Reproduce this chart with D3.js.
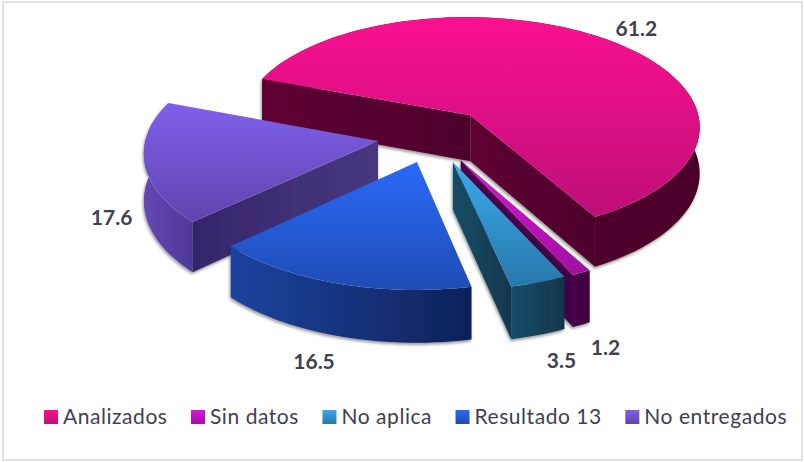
<!DOCTYPE html>
<html><head><meta charset="utf-8">
<script src="https://cdn.jsdelivr.net/npm/d3@7/dist/d3.min.js"></script>
<style>html,body{margin:0;padding:0;background:#fff}svg{display:block}</style>
</head><body><svg id="c" width="804" height="462"></svg>
<script>
const categories = ["Analizados","Sin datos","No aplica","Resultado 13","No entregados"];
const values = [61.2,1.2,3.5,16.5,17.6];
const labels = ["61.2","1.2","3.5","16.5","17.6"];
const topLight = ["#FA1090","#DC14DC","#3AAAEA","#2A6AF8","#7F60EA"];
const topDark  = ["#BE0F78","#A010A0","#2878AC","#1F4CB4","#5F44AE"];
const arcWallL = ["#5A0432","#4A0648","#1A4E68","#1C439F","#6548B4"];
const arcWallR = ["#4C022A","#3C0440","#11364C","#0F2259","#4E3896"];
const flatWallL = ["#5E0434","#4C0648","#184C66","#1C3F9C","#36266A"];
const flatWallR = ["#4E022C","#400444","#11384E","#10235F","#48387F"];
const labelShift = [[30,-10],[24,75],[23,79],[-24,78],[-33,55]];

const R=228,k=0.47,persp=2500,h=46,originX=470,originY=116,vanishX=425,startDeg=-69.5;
const centerG=[-36,41],explode=56;
const deg=Math.PI/180;
const svg=d3.select("#c");
const defs=svg.append("defs");
const f=defs.append("filter").attr("id","sh").attr("x","-10%").attr("y","-10%").attr("width","120%").attr("height","120%");
f.append("feDropShadow").attr("dx",-1).attr("dy",2).attr("stdDeviation",1.6).attr("flood-color","#000").attr("flood-opacity",.4);
function grad(id,a,b,vertical){
  const g=defs.append("linearGradient").attr("id",id).attr("x1",0).attr("y1",0).attr("x2",vertical?0:1).attr("y2",vertical?1:0);
  g.append("stop").attr("offset",0).attr("stop-color",a);
  g.append("stop").attr("offset",1).attr("stop-color",b);
}
categories.forEach((c,i)=>{
  grad("t"+i,topLight[i],topDark[i],true);
  grad("a"+i,arcWallL[i],arcWallR[i],false);
  grad("w"+i,flatWallL[i],flatWallR[i],false);
});
svg.append("rect").attr("x",3).attr("y",2).attr("width",799).attr("height",458).attr("fill","#fff").attr("stroke","#E2E2E2").attr("stroke-width",2);

const pie=d3.pie().sort(null).value(d=>d).startAngle(startDeg*deg).endAngle((360+startDeg)*deg);
const arcs=pie(values);
const project=(X,Z,down=0)=>{
  const s=persp/(persp-Z);
  return [vanishX+(X+originX-vanishX)*s, originY+k*Z*s+down*s];
};
const line=d3.line();
const scale=d3.scaleLinear().domain([0,1]);
const slices=arcs.map((a,i)=>{
  const mid=(a.startAngle+a.endAngle)/2;
  const ax=centerG[0]+explode*Math.sin(mid), az=centerG[1]-explode*Math.cos(mid);
  scale.range([a.startAngle,a.endAngle]);
  const n=Math.max(6,Math.round((a.endAngle-a.startAngle)/(2*deg)));
  const rim=d3.range(n+1).map(j=>{const t=scale(j/n);return [ax+R*Math.sin(t),az-R*Math.cos(t)];});
  return {i,mid,ax,az,rim};
});
function drawSlice(s){
  const g=svg.append("g");
  const P=(p,d=0)=>project(p[0],p[1],d);
  const apex=[s.ax,s.az];
  const rimTop=s.rim.map(p=>P(p)), rimBot=s.rim.map(p=>P(p,h));
  const walls=g.append("g").attr("filter","url(#sh)");
  walls.append("path").attr("d",line(rimTop.concat(rimBot.slice().reverse()))+"Z").attr("fill",`url(#a${s.i})`);
  [[apex,s.rim[0]],[s.rim[s.rim.length-1],apex]].forEach(([p,q])=>{
    const a=P(p),b=P(q);
    if(b[0]-a[0]<0) walls.append("path").attr("d",line([a,b,P(q,h),P(p,h)])+"Z").attr("fill",`url(#w${s.i})`);
  });
  g.append("path").attr("d",line([P(apex)].concat(rimTop))+"Z").attr("fill",`url(#t${s.i})`);
}
[0,4,1,2,3].forEach(i=>drawSlice(slices[i]));

// data labels
slices.forEach((s,i)=>{
  const p=project(s.ax+R*Math.sin(s.mid),s.az-R*Math.cos(s.mid));
  svg.append("text").attr("x",p[0]+labelShift[i][0]).attr("y",p[1]+labelShift[i][1]+7)
    .attr("text-anchor","middle").attr("font-family","Lato").attr("font-weight",700)
    .attr("font-size",21).attr("fill","#404050").text(labels[i]);
});

// legend
let lx=44;
categories.forEach((c,i)=>{
  svg.append("rect").attr("x",lx).attr("y",410).attr("width",14).attr("height",14).attr("fill",`url(#t${i})`);
  const t=svg.append("text").attr("x",lx+19).attr("y",424).attr("font-family","Lato")
    .attr("font-size",21).attr("letter-spacing",0.55).attr("fill","#404050").text(c);
  lx+=19+t.node().getComputedTextLength()+23.5;
});
</script></body></html>
